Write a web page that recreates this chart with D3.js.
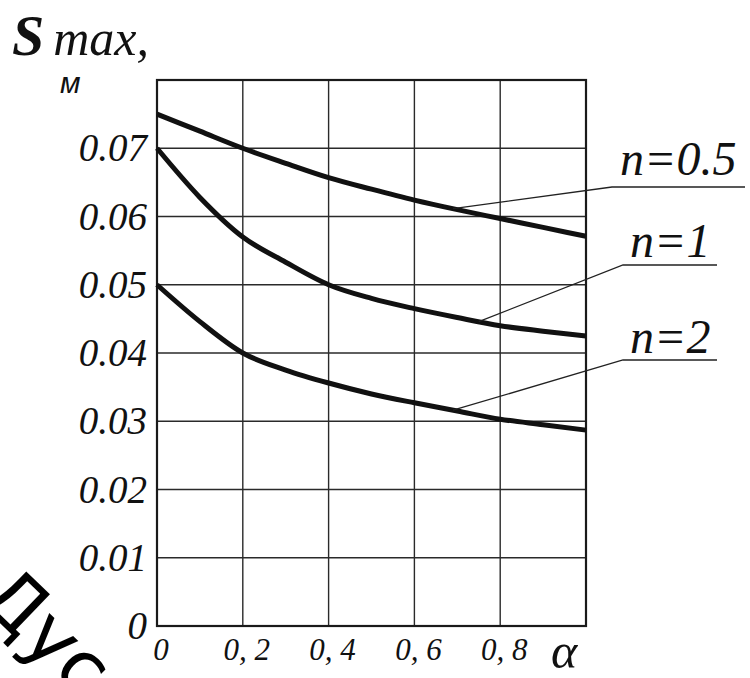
<!DOCTYPE html>
<html>
<head>
<meta charset="utf-8">
<script src="https://cdn.jsdelivr.net/npm/d3@7"></script>
<style>
  body { margin: 0; background: #fff; }
</style>
</head>
<body>
<script>
// alpha values where curves were read
const alphas = [0, 0.1, 0.2, 0.3, 0.4, 0.5, 0.6, 0.7, 0.8, 0.9, 1.0]

// S max (m) for each n
const sN05 = [0.0750, 0.0725, 0.0700, 0.0678, 0.0657, 0.0640, 0.0624, 0.0610, 0.0597, 0.0584, 0.0571]
const sN1  = [0.0700, 0.0628, 0.0570, 0.0533, 0.0500, 0.0480, 0.0465, 0.0452, 0.0440, 0.0432, 0.0425]
const sN2  = [0.0500, 0.0446, 0.0400, 0.0375, 0.0356, 0.0340, 0.0327, 0.0315, 0.0303, 0.0295, 0.0287]

const seriesNames = ['n=0.5', 'n=1', 'n=2']
const leaderAlpha = [0.69, 0.75, 0.69]

const xTicks = [0, 0.2, 0.4, 0.6, 0.8]
const yTicks = [0, 0.01, 0.02, 0.03, 0.04, 0.05, 0.06, 0.07]

const width = 750
const height = 678
const serif = '"Liberation Serif", "Times New Roman", Times, serif'

const svg = d3.select('body')
  .append('svg')
  .attr('width', width)
  .attr('height', height)
  .style('font-family', serif)

const x = d3.scaleLinear().domain([0, 1]).range([157, 586])
const y = d3.scaleLinear().domain([0, 0.08]).range([626, 80])

// grid
const grid = svg.append('g')
  .attr('stroke', '#2a2a2a')
  .attr('stroke-width', 1.4)

grid.selectAll('line.v')
  .data(xTicks.slice(1))
  .enter()
  .append('line')
  .attr('x1', d => x(d)).attr('x2', d => x(d))
  .attr('y1', y(0)).attr('y2', y(0.08))

grid.selectAll('line.h')
  .data(yTicks.slice(1))
  .enter()
  .append('line')
  .attr('x1', x(0)).attr('x2', x(1))
  .attr('y1', d => y(d)).attr('y2', d => y(d))

svg.append('rect')
  .attr('x', x(0))
  .attr('y', y(0.08))
  .attr('width', x(1) - x(0))
  .attr('height', y(0) - y(0.08))
  .attr('fill', 'none')
  .attr('stroke', '#1a1a1a')
  .attr('stroke-width', 2.2)

// tick labels
svg.append('g').selectAll('text')
  .data(yTicks)
  .enter()
  .append('text')
  .attr('x', 147)
  .attr('y', d => y(d) + 13)
  .attr('text-anchor', 'end')
  .attr('font-family', serif)
  .attr('font-style', 'italic')
  .attr('font-size', 39)
  .attr('fill', '#111')
  .text(d => d === 0 ? '0' : d3.format('.2f')(d))

svg.append('g').selectAll('text')
  .data(xTicks)
  .enter()
  .append('text')
  .attr('x', d => x(d) + 4)
  .attr('y', 660)
  .attr('text-anchor', 'middle')
  .attr('font-family', serif)
  .attr('font-style', 'italic')
  .attr('font-size', 31)
  .attr('fill', '#111')
  .text(d => d === 0 ? '0' : d3.format('.1f')(d).replace('.', ', '))

svg.append('text')
  .attr('x', 551)
  .attr('y', 668)
  .attr('font-family', serif)
  .attr('font-style', 'italic')
  .attr('font-size', 50)
  .attr('fill', '#111')
  .text('α')

// axis title
const title = svg.append('text')
  .attr('x', 12)
  .attr('y', 55)
  .attr('font-family', serif)
  .attr('font-style', 'italic')
  .attr('fill', '#111')
title.append('tspan')
  .attr('font-size', 58)
  .attr('font-weight', 'bold')
  .text('S')
title.append('tspan')
  .attr('dx', 9)
  .attr('font-size', 50)
  .text('max,')

svg.append('text')
  .attr('x', 60)
  .attr('y', 93)
  .attr('font-family', '"Liberation Sans", Arial, sans-serif')
  .attr('font-style', 'italic')
  .attr('font-size', 30)
  .attr('fill', '#111')
  .text('м')

// curves
const series = [sN05, sN1, sN2]
const line = d3.line()
  .x((d, i) => x(alphas[i]))
  .y(d => y(d))
  .curve(d3.curveMonotoneX)

svg.append('g').selectAll('path')
  .data(series)
  .enter()
  .append('path')
  .attr('d', line)
  .attr('fill', 'none')
  .attr('stroke', '#111')
  .attr('stroke-width', 5)

// labels with leaders
const labelLayout = [
  {tx: 620, ty: 175, ux1: 612, ux2: 745, uy: 187},
  {tx: 630, ty: 257, ux1: 623, ux2: 717, uy: 265},
  {tx: 630, ty: 353, ux1: 623, ux2: 717, uy: 360}
]

seriesNames.forEach((name, i) => {
  const l = labelLayout[i]
  const a = leaderAlpha[i]
  const k = Math.floor(a * 10)
  const val = d3.interpolateNumber(series[i][k], series[i][Math.min(10, k + 1)])(a * 10 - k)

  svg.append('text')
    .attr('x', l.tx)
    .attr('y', l.ty)
    .attr('font-family', serif)
    .attr('font-style', 'italic')
    .attr('font-size', 48)
    .attr('fill', '#111')
    .text(name)

  svg.append('path')
    .attr('d', `M${l.ux2},${l.uy}L${l.ux1},${l.uy}L${x(a)},${y(val)}`)
    .attr('fill', 'none')
    .attr('stroke', '#222')
    .attr('stroke-width', 1.3)
})

// stamp fragment in corner (cut by the page edge, as in the scan)
svg.append('text')
  .attr('transform', 'translate(-24,600) rotate(44)')
  .attr('font-family', '"DejaVu Sans", sans-serif')
  .attr('font-size', 76)
  .attr('fill', '#000')
  .text('Дус')
</script>
</body>
</html>
